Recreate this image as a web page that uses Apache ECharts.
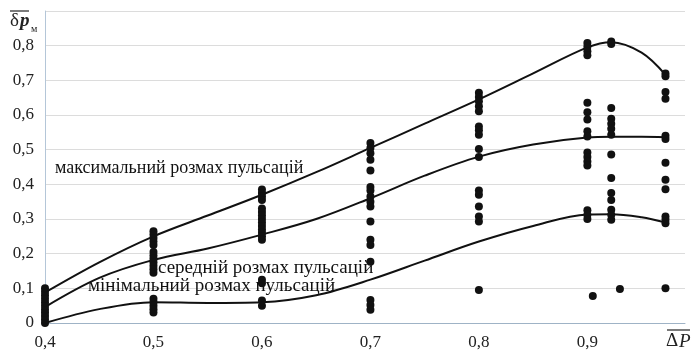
<!DOCTYPE html>
<html><head><meta charset="utf-8">
<script src="https://cdn.jsdelivr.net/npm/echarts@6/dist/echarts.min.js"></script>
<style>html,body{margin:0;padding:0;background:#fff}#c{width:691px;height:356px}</style>
</head><body><div id="c"></div>
<script>
// tick labels
const xTicks = ['0,4','0,5','0,6','0,7','0,8','0,9'];
const yTicks = ['0','0,1','0,2','0,3','0,4','0,5','0,6','0,7','0,8'];

// measured points (x, list of y)
const ptsX04 = [0.0,0.01,0.02,0.03,0.04,0.05,0.06,0.07,0.08,0.09,0.10];
const ptsX05 = [0.265,0.255,0.245,0.235,0.225,0.205,0.195,0.185,0.175,0.165,0.155,0.145,0.07,0.06,0.05,0.04,0.03];
const ptsX06 = [0.385,0.375,0.365,0.355,0.33,0.32,0.31,0.30,0.29,0.28,0.27,0.26,0.25,0.24,0.125,0.115,0.065,0.05];
const ptsX07 = [0.519,0.505,0.49,0.471,0.44,0.392,0.382,0.365,0.35,0.336,0.293,0.24,0.225,0.177,0.066,0.052,0.038];
const ptsX08 = [0.664,0.652,0.64,0.625,0.611,0.567,0.556,0.543,0.502,0.479,0.382,0.37,0.336,0.307,0.293,0.095];
const ptsX09 = [0.808,0.797,0.784,0.772,0.635,0.608,0.587,0.553,0.538,0.492,0.479,0.466,0.454,0.325,0.312,0.30];
const ptsX0905 = [0.078];
const ptsX092 = [0.812,0.805,0.62,0.589,0.575,0.56,0.543,0.486,0.418,0.375,0.355,0.327,0.312,0.298];
const ptsX093 = [0.098];
const ptsX097 = [0.72,0.712,0.666,0.647,0.54,0.531,0.462,0.413,0.386,0.307,0.298,0.288,0.10];
const clusterX = [0.4,0.5,0.6,0.7,0.8,0.9,0.905,0.922,0.93,0.972];
const clusterY = [ptsX04,ptsX05,ptsX06,ptsX07,ptsX08,ptsX09,ptsX0905,ptsX092,ptsX093,ptsX097];

// curves
const curveX   = [0.4,0.45,0.5,0.55,0.6,0.65,0.7,0.75,0.8,0.85,0.9,0.922,0.95,0.972];
const maxCurve = [0.088,0.175,0.25,0.31,0.37,0.435,0.505,0.575,0.645,0.72,0.795,0.81,0.78,0.716];
const midCurve = [0.046,0.13,0.182,0.215,0.255,0.3,0.36,0.425,0.48,0.515,0.535,0.537,0.537,0.536];
const minCurve = [0.0,0.04,0.06,0.058,0.06,0.08,0.125,0.18,0.235,0.28,0.313,0.314,0.305,0.29];

const scatterData = [];
clusterX.forEach((x,i)=>clusterY[i].forEach(y=>scatterData.push([x,y])));
const zip = (xs,ys)=>xs.map((x,i)=>[x,ys[i]]);

const serif = '"Liberation Serif","DejaVu Serif",serif';
const lineSeries = (d)=>({type:'line',data:d,smooth:0.35,symbol:'none',z:3,
  lineStyle:{color:'#111',width:2},silent:true});

const chart = echarts.init(document.getElementById('c'),null,{renderer:'canvas'});
chart.setOption({
  animation:false,
  grid:{left:45,right:6,top:11,bottom:33,containLabel:false},
  xAxis:{type:'value',min:0.4,max:0.99,interval:0.1,
    axisLine:{lineStyle:{color:'#9fb3c6',width:1}},
    axisTick:{show:false},splitLine:{show:false},
    axisLabel:{showMaxLabel:false,margin:11,fontFamily:serif,fontSize:17,color:'#222',
      formatter:(v)=>{const i=Math.round((v-0.4)*10);return (i>=0&&i<xTicks.length&&v<0.95)?xTicks[i]:'';}}},
  yAxis:{type:'value',min:0,max:0.9,interval:0.1,
    axisLine:{show:true,lineStyle:{color:'#b4c6d8',width:1}},
    axisTick:{show:false},
    splitLine:{lineStyle:{color:'#dcdcdc',width:1}},
    axisLabel:{showMaxLabel:false,margin:11,fontFamily:serif,fontSize:17,color:'#222',
      formatter:(v)=>{const i=Math.round(v*10);return i<yTicks.length?yTicks[i]:'';}}},
  series:[
    lineSeries(zip(curveX,maxCurve)),
    lineSeries(zip(curveX,midCurve)),
    lineSeries(zip(curveX,minCurve)),
    {type:'scatter',data:scatterData,symbol:'circle',symbolSize:8,z:4,
      itemStyle:{color:'#111',opacity:1}}
  ],
  graphic:[
    {type:'text',left:10,top:12,style:{text:'δ',font:'19px '+serif,fill:'#222'}},
    {type:'text',left:20,top:12,style:{text:'p',font:'italic bold 19px '+serif,fill:'#222'}},
    {type:'text',left:31,top:24,style:{text:'м',font:'10px '+serif,fill:'#222'}},
    {type:'line',shape:{x1:10,y1:11,x2:29,y2:11},style:{stroke:'#222',lineWidth:1.2}},
    {type:'text',left:666,top:332,style:{text:'Δ',font:'19px '+serif,fill:'#222'}},
    {type:'text',left:679,top:332,style:{text:'P',font:'italic 19px '+serif,fill:'#222'}},
    {type:'line',shape:{x1:667,y1:330,x2:690,y2:330},style:{stroke:'#222',lineWidth:1.2}},
    {type:'text',left:55,top:159,z:10,style:{text:'максимальний розмах пульсацій',font:'18px '+serif,fill:'#111'}},
    {type:'text',left:158,top:259,z:10,style:{text:'середній розмах пульсацій',font:'19px '+serif,fill:'#111'}},
    {type:'text',left:88,top:277,z:10,style:{text:'мінімальний розмах пульсацій',font:'19px '+serif,fill:'#111'}}
  ]
});
</script></body></html>
